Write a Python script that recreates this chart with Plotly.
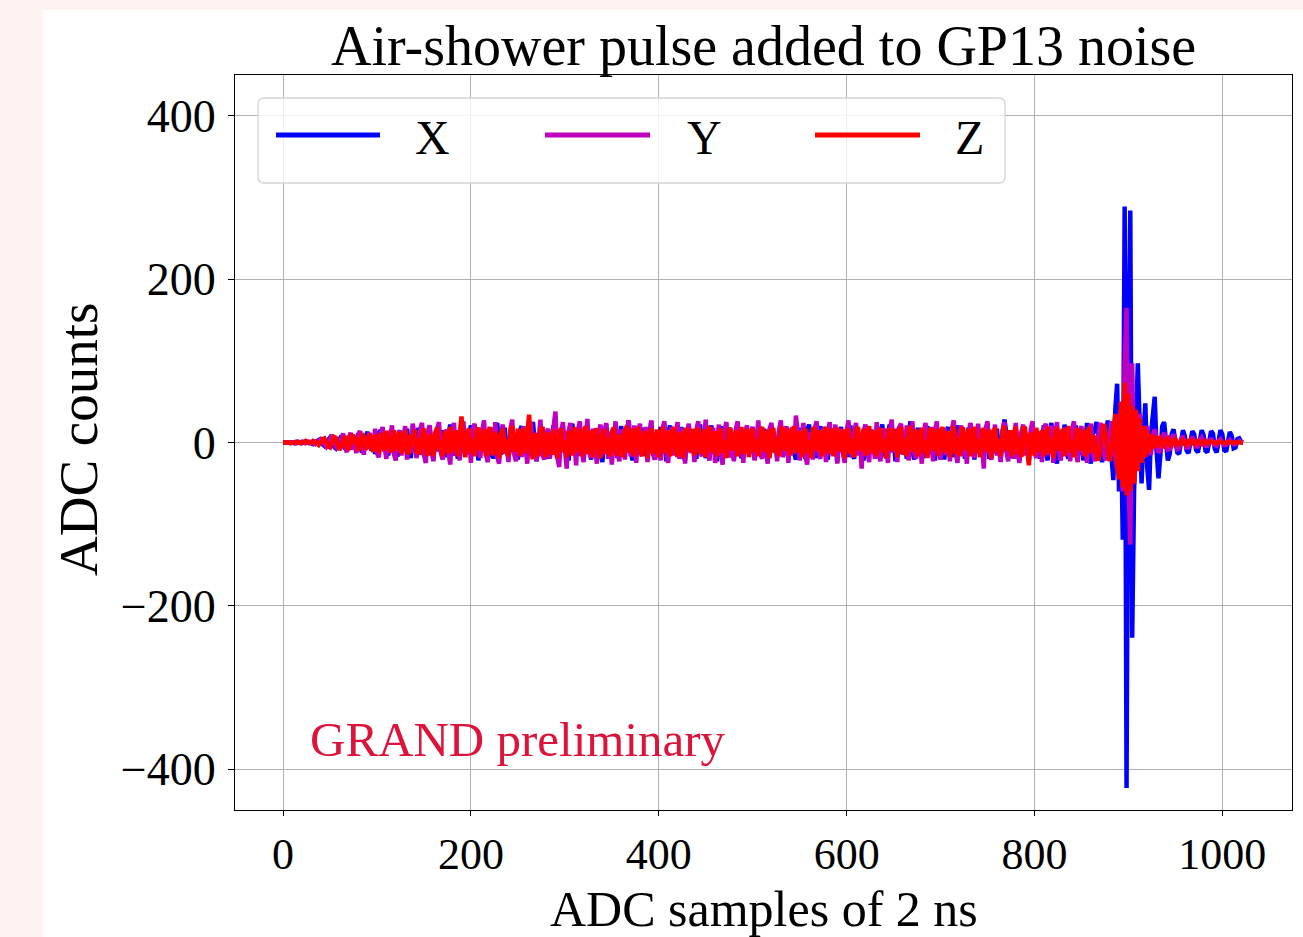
import plotly.graph_objects as go

# ADC traces of the three antenna arms, one value every 2 samples (samples 0..1022)
SAMPLE_STEP = 2

adc_x = [
    0, 0, 0, 1, 0, 0, -1, 0, 1, 0, -1, 0, 1, 1, 0, -1,
    -2, 0, 2, 3, 0, -3, -4, 0, 4, 6, 2, -5, -7, -2, 5, 8,
    4, -7, -10, 2, 9, 6, -8, 3, 11, -5, -12, 1, 8, 13, -4, -9,
    5, -14, -6, 12, 15, -3, -11, 7, -16, 4, 13, 9, -10, -17, 2, 14,
    -6, 10, 17, -8, -19, 5, 3, -12, 18, 8, -15, -7, 12, -4, 20, -9,
    -21, 6, 14, -11, 2, 15, -18, -6, 12, 22, -3, -16, 9, -20, 4, 11,
    19, -7, -14, 3, 21, -12, -5, 16, -22, 8, 17, -2, -13, 10, -18, 6,
    -20, 13, 24, -6, -15, 4, 18, -10, -19, 7, 12, -15, 3, -21, 14, 20,
    -5, -11, 9, -18, 15, 25, -8, -23, 6, 2, 19, -12, -20, 11, -6, 8,
    21, -4, -19, 13, -9, 16, 3, -14, -22, 9, 23, -10, 5, -16, 12, -7,
    -18, 13, 19, -5, -21, 8, -12, 17, 6, -13, -24, 10, 22, -3, -15, 9,
    -11, 14, -19, 5, 20, -15, -7, 13, 27, -8, -22, 4, 18, -12, 9, -6,
    18, -13, -19, 7, 26, -9, -21, 11, -4, 19, -12, 6, -23, 10, 21, -11,
    -4, 14, -18, 3, 19, -16, -22, 11, 18, -7, 6, -12, -20, 13, 22, -10,
    9, -19, -5, 15, 21, -14, 4, -23, 10, 20, -11, -6, 13, -9, 18, -13,
    -20, 12, 23, -9, -19, 7, -4, 17, -13, 5, 19, -21, -8, 14, -11, 10,
    17, -14, -22, 10, 21, -12, 4, -18, 13, 19, -7, -9, 11, -20, 8, 15,
    -12, -21, 8, 18, -13, 3, -20, 14, 22, -11, -5, 9, -19, 12, 20, -8,
    6, -13, -21, 10, 17, -14, 8, -24, 9, 19, -10, -3, 13, -18, 21, -12,
    -20, 11, 18, -13, 4, -22, 10, 20, -7, -11, 15, -12, 7, -19, 12, 22,
    -11, -19, 13, 22, -12, 6, -23, 11, 19, -14, -5, 12, -20, 8, 26, -10,
    -21, 9, 18, -13, 5, -19, 14, 20, -12, -4, 12, -22, 9, 17, -15, 6,
    -21, 12, 19, -11, 3, -18, 13, 21, -10, -6, 11, -20, 9, 18, -14, 5,
    -21, 10, 17, -12, 7, -19, 13, 18, -20, 4, 11, -13, 17, -9, -22, 9,
    28, 12, -4, 12, -19, 8, 20, -12, -21, 11, 18, -14, 5, -23, 10, 20,
    -7, -12, 13, -20, 6, 21, -11, -22, 12, 24, -13, 3, -26, 10, 14, -15,
    22, -9, -20, 8, 16, -11, 21, -6, -15, 12, -22, 9, 24, -13, -26, 11,
    14, 25, 9, -15, -24, -8, 16, 27, 10, -25, -46, 40, 72, -60, 30, -119,
    289, -423, 120, 284, -239, -60, 40, 97, 20, -50, 10, 48, -30, -58, 10, 30,
    56, -10, -44, -15, 20, 25, -5, -22, -14, 10, 16, 2, -12, -14, 5, 15,
    8, -10, -13, 3, 14, 10, -9, -12, 2, 15, 9, -10, -12, 4, 14, 11,
    -8, -12, 3, 15, 10, -9, -11, 5, 13, 8, -7, -6, 4, 5, 1, 0,
]

adc_y = [
    0, 0, 0, 0, 1, 0, 0, -1, 0, 0, 1, 0, -1, 0, 1, 0,
    -1, -2, 0, 3, 4, 1, -3, -5, -1, 6, 9, 4, -5, -8, -2, 7,
    11, -4, -12, 6, 12, -9, 3, -13, 10, 14, -6, -15, 8, -3, 12, -10,
    -5, 17, -13, -18, 9, 19, -4, -20, 11, 6, 21, -14, -22, 8, 15, -16,
    3, 20, -21, 9, -12, 23, 10, -19, -5, 17, 24, -15, -25, 12, 21, -8,
    -23, 7, 14, 25, -13, -21, 6, 16, -11, -27, 13, 24, -16, 5, -22, 15,
    26, -10, -14, 9, -25, 17, 23, -12, 4, -19, 14, 27, -15, -24, 8, 18,
    -6, 25, -17, -26, 10, 22, -13, 5, -24, 16, 28, -14, -23, 7, 15, -18,
    20, -9, -26, 13, 25, -16, 6, -23, 11, 28, -14, -21, 9, 17, -20, 4,
    23, 38, -18, -30, 12, 25, -7, -32, 14, 24, -11, 6, -28, 15, 26, -10,
    -24, 9, 29, -13, -19, 17, 6, -26, 12, 22, -14, -8, 24, -20, 13, -27,
    10, 26, -11, -23, 16, 4, -21, 14, 27, -17, -9, 21, -25, 12, 23, -13,
    -6, 19, -24, 8, 27, -15, -21, 13, 5, -22, 17, 26, -12, -25, 10, 19,
    -16, 7, 25, -20, -9, 18, -26, 11, 23, -13, 4, -24, 15, 26, -10, -17,
    12, 28, -14, -22, 9, 18, -25, 6, 22, -12, -27, 14, 25, -8, -18, 11,
    -23, 16, 26, -11, 5, -25, 13, 21, -16, -7, 19, -22, 10, 27, -13, -20,
    14, -9, -26, 17, 24, -12, 6, -23, 15, 27, -18, -10, 20, -25, 11, 18,
    -14, 33, 12, -22, 8, 24, -16, -27, 13, 5, -21, 17, 26, -12, -20, 9,
    19, -24, 11, 25, -15, -8, 22, -26, 10, 17, -13, -25, 14, 27, -9, -18,
    12, 24, -16, 6, -32, 13, 22, -11, -24, 16, 8, -20, 25, -14, -23, 10,
    17, -9, -25, 14, 28, -12, 5, -24, 18, 23, -15, -7, 21, -22, 11, 26,
    -13, -20, 15, 7, -26, 12, 24, -17, -10, 19, -23, 13, 26, -11, -21, 9,
    18, -15, 6, -23, 16, 27, -12, -25, 10, 21, -17, 8, -26, 14, 24, -10,
    -19, 11, 23, -14, 5, -32, 17, 26, -12, -21, 9, 22, -16, 4, -24, 15,
    25, -11, -23, 14, 8, -20, 24, -13, -25, 12, 22, -16, 5, -22, 16, 26,
    -12, -19, 13, 6, -24, 17, 23, -15, -8, 21, -25, 11, 25, -13, -22, 10,
    18, -14, 4, -23, 15, 26, -11, -24, 12, 20, -16, 7, -25, 13, 23, -12,
    -23, -6, 15, 24, 9, -14, -22, -5, 16, 26, 8, -20, -30, 20, 40, -60,
    100, 165, -40, -125, 97, -50, -20, 25, 35, -20, -18, 12, 20, -10, -15, 8,
    16, 4, -12, -10, 6, 12, 3, -9, -8, 5, 10, 2, -8, -7, 4, 8,
    2, -6, -6, 3, 7, 2, -5, -5, 3, 6, 1, -4, -4, 2, 5, 1,
    -3, -4, 2, 4, 1, -3, -3, 1, 3, 1, -2, -2, 1, 2, 0, 0,
]

adc_z = [
    0, 0, 1, 0, -1, 0, 1, 1, 0, -1, 0, 1, 2, 0, -1, 0,
    2, 1, -2, -3, 0, 4, 5, 0, -5, -6, 1, 7, 6, -3, -9, -5,
    3, 8, -5, -9, 6, 10, -2, 7, -10, -4, 11, 6, -9, 2, 11, -7,
    -11, 9, 5, -13, 12, -3, -10, 14, 7, -12, -5, 15, -10, 3, 13, -14,
    5, 15, -11, -14, 10, -4, 16, -13, 5, -15, 11, 17, -8, -16, 10, 6,
    -17, 12, 18, -10, 3, -17, 14, 7, -14, 19, -11, -6, 15, -17, 10, 32,
    -6, -18, 11, 17, -13, 5, -17, 14, 18, -10, -7, 16, -17, 9, 19, -12,
    -15, 13, 6, -19, 10, 17, -14, 4, -17, 15, 20, -11, -6, 17, -16, 8,
    18, -13, 10, 34, -14, -20, 11, 6, -17, 14, 19, -10, -18, 12, 5, -15,
    16, -9, -19, 13, 17, -12, 3, -18, 14, 9, -16, 19, -11, -7, 17, -17,
    10, 20, -14, -5, 15, -18, 12, 17, -10, -19, 8, 16, -14, 6, -17, 13,
    18, -11, -16, 10, 4, -18, 15, 20, -12, -8, 17, -17, 11, 19, -10, -17,
    14, 6, -19, 12, 17, -14, -4, 16, -18, 10, 19, -13, -7, 15, -17, 10,
    19, -10, -17, 13, 5, -19, 14, 17, -11, -6, 17, -16, 9, 18, -14, -6,
    16, -18, 11, 20, -12, -7, 14, -17, 10, 17, -13, 3, -19, 14, 18, -10,
    -5, 15, -17, 8, 19, -14, -6, 17, -18, 10, 17, -12, 4, -17, 14, 19,
    -11, -8, 16, -19, 10, 18, -13, 6, -17, 15, 19, -10, -5, 17, -16, 9,
    20, -12, -6, 14, -18, 11, 17, -14, 3, -19, 16, 18, -10, -7, 15, -17,
    10, 19, -13, -4, 17, -17, 9, 18, -11, -6, 16, -19, 12, 17, -14, 5,
    -18, 14, 19, -10, -6, 17, -16, 8, 20, -13, -7, 15, -17, 11, 18, -12,
    4, -19, 14, 17, -10, -6, 17, -18, 10, 19, -14, 5, -17, 14, 20, -11,
    -7, 16, -17, 9, 18, -13, 3, -19, 15, 17, -10, -6, 17, -16, 10, 19,
    -12, -5, 14, -18, 11, 20, -14, 6, -17, 16, 18, -10, -8, 17, -17, 10,
    19, -13, 4, -18, 14, 17, -11, -6, 16, -19, 10, 18, -12, 5, -17, 14,
    20, -10, -7, 15, -17, 11, 19, -14, 6, -18, 17, 17, -10, -28, 12, 7,
    -16, 18, -11, -5, 15, -17, 10, 19, -13, 6, -19, 14, 18, -10, -7, 17,
    -17, 11, 20, -12, 3, -18, 14, 17, -10, -6, 16, -17, 10, 19, -13, 6,
    8, -15, -22, -6, 16, 23, 7, -14, -23, -7, 20, 35, -30, -45, 50, -55,
    73, -65, 60, -59, 45, -50, 40, -35, 30, -25, 20, -18, 15, -12, 10, -8,
    8, -6, 5, 6, -4, -5, 3, 5, -3, -4, 3, 4, -2, -3, 2, 3,
    -2, -3, 2, 3, -1, -2, 2, 2, -1, -2, 1, 2, -1, -1, 1, 1,
    0, -1, 1, 1, 0, -1, 0, 1, 0, 0, 0, 1, 0, 0, 0, 0,
]

channel_names = ["X", "Y", "Z"]
channel_colors = ["#0000ff", "#bf00bf", "#ff0000"]
channel_values = [adc_x, adc_y, adc_z]

x_tick_values = [0, 200, 400, 600, 800, 1000]
y_tick_values = [-400, -200, 0, 200, 400]
y_tick_labels = ["\u2212400", "\u2212200", "0", "200", "400"]

FONT = "Liberation Serif"
W, H = 1303, 937
L, R, T, B = 235, 11, 75, 127
PW, PH = W - L - R, H - T - B


def px_x(p):
    """pixel column -> paper x"""
    return (p - L) / PW


def px_y(p):
    """pixel row -> paper y"""
    return (H - B - p) / PH


fig = go.Figure()
for name, color, vals in zip(channel_names, channel_colors, channel_values):
    fig.add_trace(go.Scatter(
        x=[i * SAMPLE_STEP for i in range(len(vals))],
        y=vals,
        mode="lines",
        name=name,
        line=dict(color=color, width=4.5),
        showlegend=False,
        hoverinfo="skip",
    ))

shapes = []
# white figure area over the tinted page edge
shapes.append(dict(type="rect", xref="paper", yref="paper", layer="below",
                   x0=px_x(43), x1=px_x(W + 5), y0=px_y(H + 5), y1=px_y(10),
                   fillcolor="white", line=dict(width=0)))

# legend box with rounded corners
bx0, bx1, by0, by1 = px_x(258), px_x(1005), px_y(183), px_y(98)
rx, ry = 6 / PW, 6 / PH
legend_path = (
    f"M {bx0+rx},{by1} L {bx1-rx},{by1} Q {bx1},{by1} {bx1},{by1-ry} "
    f"L {bx1},{by0+ry} Q {bx1},{by0} {bx1-rx},{by0} "
    f"L {bx0+rx},{by0} Q {bx0},{by0} {bx0},{by0+ry} "
    f"L {bx0},{by1-ry} Q {bx0},{by1} {bx0+rx},{by1} Z"
)
shapes.append(dict(type="path", xref="paper", yref="paper", layer="above",
                   path=legend_path, fillcolor="rgba(255,255,255,0.8)",
                   line=dict(color="#d4d4d4", width=1.3)))

legend_lines = [(276, 380), (545, 650), (815, 920)]
legend_text_x = [432, 704, 969]
annotations = []
for (lx0, lx1), tx, name, color in zip(legend_lines, legend_text_x, channel_names, channel_colors):
    shapes.append(dict(type="line", xref="paper", yref="paper", layer="above",
                       x0=px_x(lx0), x1=px_x(lx1), y0=px_y(135), y1=px_y(135),
                       line=dict(color=color, width=5)))
    annotations.append(dict(text=name, xref="paper", yref="paper",
                            x=px_x(tx), y=px_y(137), xanchor="center", yanchor="middle",
                            showarrow=False, font=dict(family=FONT, size=48, color="black")))

annotations += [
    dict(text="Air-shower pulse added to GP13 noise", xref="paper", yref="paper",
         x=0.5, y=px_y(46), xanchor="center", yanchor="middle", showarrow=False,
         font=dict(family=FONT, size=56, color="black")),
    dict(text="ADC samples of 2 ns", xref="paper", yref="paper",
         x=0.5, y=px_y(909), xanchor="center", yanchor="middle", showarrow=False,
         font=dict(family=FONT, size=50, color="black")),
    dict(text="ADC counts", xref="paper", yref="paper", textangle=-90,
         x=px_x(78), y=px_y(440), xanchor="center", yanchor="middle", showarrow=False,
         font=dict(family=FONT, size=55, color="black")),
    dict(text="GRAND preliminary", xref="paper", yref="paper",
         x=px_x(308), y=px_y(739), xanchor="left", yanchor="middle", showarrow=False,
         font=dict(family=FONT, size=49, color="#dc143c")),
]

axis_common = dict(
    showgrid=True, gridcolor="#b0b0b0", gridwidth=1,
    zeroline=False, showline=True, linecolor="black", linewidth=1.2, mirror=True,
    ticks="outside", tickwidth=1.2, tickcolor="black",
)

fig.update_layout(
    width=W, height=H,
    margin=dict(l=L, r=R, t=T, b=B),
    paper_bgcolor="#fdf3f0",
    plot_bgcolor="white",
    showlegend=False,
    shapes=shapes,
    annotations=annotations,
    xaxis=dict(range=[-51.15, 1074.15], tickvals=x_tick_values,
               ticktext=[str(v) for v in x_tick_values], ticklen=5, ticklabelstandoff=0,
               tickfont=dict(family=FONT, size=44, color="black"), **axis_common),
    yaxis=dict(range=[-450, 450], tickvals=y_tick_values, ticktext=y_tick_labels,
               ticklen=6, ticklabelstandoff=3,
               tickfont=dict(family=FONT, size=46, color="black"), **axis_common),
)

fig.write_html("out.html")
